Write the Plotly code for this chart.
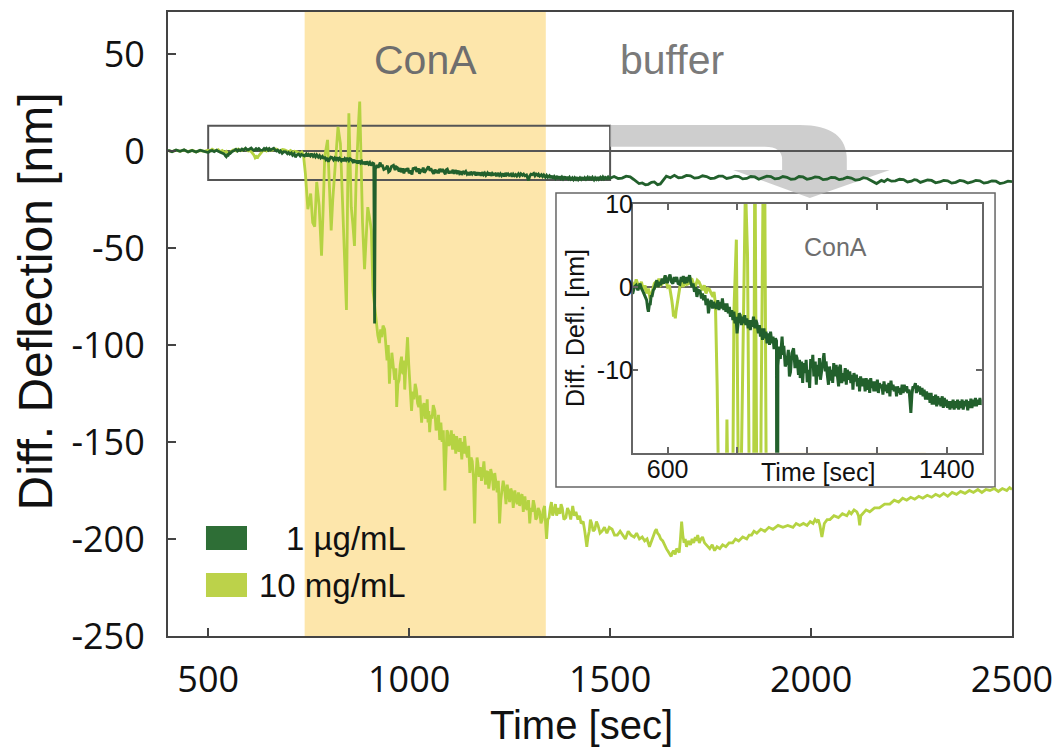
import plotly.graph_objects as go

# Differential cantilever deflection (nm) versus time (s) for two ConA concentrations.
# Each list holds (time, deflection) readings.
LOW_CONC = [  # 1 µg/mL
    (400, 0.3), (410, -0.4), (420, 0.5), (430, -0.2), (440, 0.6), (450, -0.5), (460, 0.2),
    (470, -0.6), (480, 0.4), (490, -0.3), (500, -0.8), (505, 0.0), (510, 0.2), (515, -0.4),
    (521, 0.4), (525, -0.2), (530, -0.6), (535, -1.2), (540, -1.6), (543, -2.6), (545, -3.0),
    (548, -2.0), (550, -2.2), (553, -1.0), (555, -1.2), (559, -0.4), (562, -0.2), (566, 0.4),
    (569, 0.8), (573, 0.0), (576, 0.6), (580, 0.2), (584, 1.0), (588, 0.4), (593, 1.4),
    (597, 0.6), (600, 0.6), (604, 1.2), (607, 1.5), (611, 0.6), (615, 0.4), (619, 1.2),
    (622, 0.6), (626, 1.2), (630, 0.4), (635, 0.3), (639, 1.2), (642, 0.6), (645, 1.3),
    (649, 0.4), (652, 1.2), (655, 0.5), (659, 1.0), (663, 1.4), (666, 0.6), (670, 0.0),
    (673, 0.4), (677, -0.6), (680, 0.0), (684, -1.2), (688, -0.4), (693, -0.5), (697, -1.4),
    (700, -0.8), (703, -1.6), (707, -1.0), (710, -2.2), (714, -1.4), (717, -3.2), (721, -2.0),
    (725, -1.6), (729, -2.6), (732, -1.8), (736, -2.4), (740, -2.6), (744, -1.6), (747, -2.8),
    (750, -1.8), (754, -2.6), (757, -1.4), (761, -2.8), (764, -2.0), (767, -3.0), (770, -2.0),
    (774, -3.2), (777, -2.4), (780, -3.6), (784, -2.8), (787, -4.0), (790, -3.0), (793, -4.4),
    (796, -3.6), (799, -5.6), (802, -4.2), (805, -3.2), (808, -3.4), (812, -4.6), (815, -3.6),
    (818, -4.4), (821, -3.4), (824, -4.6), (827, -3.8), (831, -5.0), (834, -4.0), (837, -5.2),
    (840, -4.0), (843, -4.8), (846, -3.6), (850, -5.0), (853, -4.0), (856, -4.4), (860, -5.6),
    (863, -4.6), (866, -6.0), (869, -5.0), (872, -6.4), (876, -5.0), (879, -6.2), (882, -5.4),
    (885, -6.8), (888, -5.6), (892, -7.0), (895, -5.4), (899, -6.8), (902, -6.0), (905, -7.5),
    (909, -6.2), (912, -6.5), (914, -89.0), (916, -9.5), (920, -7.2), (923, -8.7), (926, -6.4),
    (928, -6.0), (931, -8.2), (933, -7.1), (937, -9.6), (942, -9.0), (946, -7.6), (949, -10.8),
    (952, -10.3), (956, -8.0), (961, -7.4), (965, -9.8), (968, -8.2), (971, -8.6), (975, -10.6),
    (978, -8.8), (980, -11.0), (984, -9.0), (987, -11.6), (990, -9.2), (994, -10.4), (997, -8.8),
    (1000, -11.5), (1004, -10.0), (1007, -12.2), (1010, -8.7), (1014, -9.6), (1016, -8.2),
    (1019, -10.8), (1023, -9.0), (1026, -11.8), (1029, -9.4), (1033, -10.8), (1035, -8.6),
    (1038, -11.2), (1042, -9.8), (1045, -8.4), (1048, -8.0), (1052, -10.2), (1054, -9.0),
    (1057, -10.4), (1061, -11.8), (1064, -9.6), (1067, -11.3), (1071, -10.0), (1073, -11.6),
    (1076, -9.2), (1080, -10.8), (1083, -9.4), (1086, -10.6), (1090, -12.0), (1092, -9.8),
    (1095, -9.4), (1099, -11.6), (1102, -10.4), (1105, -11.4), (1109, -9.8), (1112, -11.8),
    (1115, -10.0), (1119, -11.2), (1122, -10.2), (1125, -11.6), (1129, -10.6), (1131, -12.4),
    (1134, -10.4), (1138, -11.4), (1141, -10.6), (1144, -12.0), (1148, -11.0), (1150, -12.6),
    (1153, -10.8), (1157, -12.0), (1160, -11.2), (1163, -11.2), (1166, -12.6), (1169, -11.0),
    (1172, -12.4), (1176, -11.2), (1179, -12.8), (1182, -11.0), (1185, -12.2), (1188, -11.4),
    (1191, -12.6), (1195, -11.4), (1198, -12.6), (1201, -11.2), (1204, -12.8), (1207, -11.6),
    (1210, -12.2), (1214, -11.8), (1217, -13.0), (1220, -11.4), (1224, -12.6), (1227, -11.8),
    (1230, -12.8), (1234, -11.6), (1237, -13.2), (1240, -11.3), (1243, -12.4), (1246, -11.8),
    (1249, -12.6), (1253, -12.0), (1256, -13.2), (1259, -12.0), (1262, -12.8), (1265, -12.2),
    (1268, -13.0), (1272, -11.8), (1275, -12.8), (1278, -11.8), (1282, -12.6), (1285, -12.0),
    (1288, -12.8), (1292, -12.4), (1295, -13.6), (1297, -15.2), (1300, -13.0), (1303, -12.0),
    (1306, -12.2), (1310, -11.6), (1313, -12.8), (1316, -11.9), (1320, -12.6), (1322, -12.0),
    (1325, -13.0), (1329, -12.2), (1332, -13.2), (1335, -12.4), (1339, -13.6), (1342, -12.6),
    (1345, -13.6), (1349, -12.8), (1352, -14.0), (1355, -12.8), (1358, -14.2), (1361, -13.2),
    (1364, -14.2), (1368, -13.0), (1371, -14.4), (1374, -13.2), (1377, -14.2), (1380, -13.4),
    (1383, -14.4), (1387, -13.2), (1390, -14.6), (1393, -13.4), (1396, -14.4), (1399, -13.6),
    (1402, -14.6), (1406, -13.8), (1409, -14.8), (1412, -13.8), (1415, -14.6), (1418, -13.6),
    (1421, -14.8), (1425, -13.8), (1428, -14.6), (1431, -13.6), (1434, -14.8), (1437, -13.8),
    (1440, -14.6), (1444, -13.6), (1447, -14.8), (1450, -13.8), (1453, -14.4), (1456, -13.6),
    (1460, -14.9), (1463, -13.8), (1466, -14.6), (1469, -13.5), (1472, -14.6), (1476, -13.6),
    (1479, -14.4), (1482, -13.4), (1485, -14.4), (1488, -13.6), (1492, -14.2), (1495, -13.4),
    (1498, -14.2), (1510, -13.2), (1520, -14.2), (1530, -14.0), (1540, -13.0), (1550, -13.4),
    (1558, -14.6), (1565, -15.5), (1572, -16.8), (1580, -16.5), (1588, -17.4), (1595, -17.2),
    (1603, -16.2), (1610, -16.0), (1618, -17.4), (1625, -17.0), (1632, -15.0), (1640, -13.0),
    (1650, -13.8), (1660, -12.6), (1670, -13.8), (1680, -13.6), (1690, -12.6), (1700, -12.8),
    (1710, -14.0), (1720, -13.8), (1730, -12.8), (1740, -13.2), (1750, -14.2), (1760, -14.0),
    (1770, -13.0), (1780, -13.0), (1790, -14.2), (1800, -13.8), (1810, -13.0), (1820, -13.2),
    (1830, -14.4), (1840, -14.2), (1850, -13.2), (1860, -13.4), (1870, -14.6), (1880, -14.0),
    (1890, -13.0), (1900, -13.2), (1910, -14.4), (1920, -14.2), (1930, -13.2), (1940, -13.6),
    (1950, -14.6), (1960, -14.4), (1970, -13.2), (1980, -13.4), (1990, -14.6), (2000, -14.2),
    (2010, -13.4), (2020, -13.6), (2030, -14.8), (2040, -14.6), (2050, -13.6), (2060, -13.8),
    (2070, -14.8), (2080, -14.4), (2090, -13.6), (2100, -14.0), (2110, -15.0), (2120, -14.8),
    (2130, -13.8), (2140, -14.2), (2150, -15.4), (2157, -16.2), (2163, -16.8), (2169, -16.0),
    (2175, -15.2), (2182, -15.8), (2190, -14.6), (2200, -15.6), (2210, -15.4), (2220, -14.6),
    (2230, -14.8), (2240, -16.0), (2250, -15.6), (2257, -14.8), (2263, -15.0), (2272, -16.2),
    (2280, -15.8), (2290, -15.0), (2300, -15.2), (2310, -16.4), (2320, -16.0), (2330, -15.2),
    (2340, -15.4), (2350, -16.6), (2360, -16.2), (2370, -15.2), (2380, -15.6), (2390, -16.6),
    (2400, -16.0), (2410, -15.2), (2420, -15.4), (2430, -16.6), (2440, -16.2), (2450, -15.4),
    (2460, -15.6), (2470, -16.8), (2480, -16.4), (2490, -15.6), (2500, -15.8),
]

HIGH_CONC = [  # 10 mg/mL
    (400, 0.2), (410, -0.3), (420, 0.4), (430, -0.2), (440, 0.5), (450, -0.4), (460, 0.3),
    (470, -0.5), (480, 0.2), (490, -0.2), (500, 0.4), (505, 0.0), (510, 0.9), (515, 0.3),
    (521, 0.2), (525, 0.6), (530, -0.4), (535, 0.2), (540, -0.8), (545, -0.2), (550, -1.5),
    (554, -0.8), (558, -0.3), (562, 0.4), (566, 0.6), (570, 0.0), (575, 1.0), (580, 0.2),
    (585, 0.4), (590, 1.0), (595, 0.8), (600, 0.0), (605, 0.2), (609, -0.6), (612, -1.6),
    (615, -2.6), (617, -3.6), (620, -3.0), (622, -3.8), (624, -3.0), (626, -2.4), (629, -1.4),
    (632, -0.6), (636, 0.2), (640, 0.6), (645, 0.0), (650, 1.0), (655, 0.3), (660, 0.4),
    (665, 1.0), (670, 0.9), (675, 0.2), (680, 0.1), (685, 0.8), (690, 0.6), (695, 0.0),
    (700, -0.4), (705, 0.2), (710, -0.8), (715, -0.2), (720, -0.3), (725, -0.8), (730, -1.2),
    (733, -0.6), (737, -2.0), (742, -12), (748, -30), (755, -22), (760, -37), (765, -39),
    (770, -16), (776, -28), (782, -54), (786, -30), (790, -3), (797, 5.7), (802, -18),
    (806, -41), (810, -25), (814, -13), (818, 2), (823, 12.4), (829, 3.8), (835, -34),
    (840, -55), (844, -82), (847, -20), (850, 19.4), (853, -5), (856, -29), (860, -38),
    (864, -49), (868, -15), (871, 5.7), (874, 14), (877, 25.4), (880, -10), (884, -37),
    (889, -61), (893, -45), (897, -29), (902, -35), (906, -41), (910, -72), (914, -80),
    (918, -89), (922, -95), (926, -99), (929, -92), (932, -96), (935, -90), (939, -92),
    (942, -102), (945, -108), (948, -100), (951, -120), (953, -110), (955, -112), (957, -104),
    (959, -109), (962, -114), (964, -118), (967, -112), (969, -132), (972, -120), (975, -118),
    (978, -110), (981, -106), (983, -114), (985, -115), (987, -108), (989, -123), (991, -114),
    (993, -108), (995, -100), (996, -96), (999, -110), (1001, -118), (1004, -126), (1006, -134),
    (1009, -124), (1012, -128), (1015, -120), (1018, -123), (1021, -130), (1024, -132),
    (1027, -126), (1031, -140), (1034, -132), (1037, -130), (1040, -138), (1043, -134),
    (1045, -128), (1047, -140), (1049, -134), (1051, -145), (1054, -136), (1057, -138),
    (1060, -131), (1064, -134), (1067, -144), (1070, -142), (1073, -136), (1076, -149),
    (1079, -140), (1082, -150), (1085, -144), (1089, -175), (1091, -160), (1092, -152),
    (1094, -144), (1096, -145), (1099, -152), (1102, -150), (1105, -144), (1108, -154),
    (1110, -146), (1113, -148), (1116, -156), (1118, -147), (1121, -152), (1124, -155),
    (1127, -148), (1131, -159), (1133, -152), (1135, -150), (1137, -156), (1138, -147),
    (1141, -154), (1145, -158), (1148, -152), (1151, -166), (1154, -158), (1157, -160),
    (1160, -168), (1163, -192), (1165, -172), (1167, -165), (1169, -158), (1171, -161),
    (1174, -168), (1177, -163), (1180, -170), (1183, -166), (1186, -160), (1190, -172),
    (1192, -166), (1195, -165), (1198, -174), (1200, -171), (1203, -164), (1207, -168),
    (1210, -175), (1213, -166), (1216, -172), (1219, -176), (1222, -170), (1225, -192),
    (1228, -180), (1231, -176), (1234, -170), (1238, -175), (1241, -182), (1244, -172),
    (1247, -178), (1250, -181), (1253, -174), (1256, -176), (1259, -184), (1263, -175),
    (1266, -180), (1269, -182), (1272, -176), (1275, -183), (1278, -178), (1281, -177),
    (1284, -186), (1288, -178), (1291, -184), (1294, -185), (1297, -180), (1300, -192),
    (1303, -184), (1306, -186), (1309, -180), (1312, -183), (1315, -190), (1318, -189),
    (1321, -184), (1325, -186), (1328, -192), (1331, -190), (1334, -185), (1337, -183),
    (1340, -194), (1342, -200), (1345, -190), (1348, -189), (1351, -184), (1354, -181),
    (1357, -188), (1360, -186), (1364, -182), (1367, -188), (1371, -184), (1375, -187),
    (1378, -182), (1381, -184), (1385, -190), (1390, -189), (1394, -184), (1398, -186),
    (1402, -190), (1407, -183), (1411, -188), (1415, -186), (1420, -190), (1424, -188),
    (1428, -192), (1433, -191), (1437, -196), (1442, -204), (1445, -199), (1448, -196),
    (1451, -190), (1454, -192), (1458, -196), (1462, -195), (1466, -191), (1470, -193),
    (1475, -197), (1480, -196), (1486, -194), (1492, -197), (1498, -194), (1505, -195),
    (1511, -198), (1518, -198), (1525, -196), (1532, -198), (1538, -200), (1545, -196),
    (1552, -198), (1560, -199), (1566, -197), (1573, -200), (1580, -199), (1586, -201),
    (1592, -200), (1598, -204), (1603, -201), (1608, -199), (1612, -196), (1615, -195),
    (1618, -197), (1622, -198), (1626, -200), (1631, -201), (1635, -203), (1640, -205),
    (1646, -207), (1652, -209), (1655, -207), (1658, -206), (1662, -208), (1665, -205),
    (1669, -206), (1672, -207), (1675, -200), (1678, -191), (1681, -198), (1684, -202),
    (1687, -200), (1690, -204), (1695, -201), (1700, -203), (1704, -200), (1708, -202),
    (1712, -199), (1715, -201), (1718, -198), (1722, -202), (1726, -200), (1730, -199),
    (1735, -202), (1739, -203), (1744, -204), (1748, -205), (1754, -203), (1760, -206),
    (1766, -204), (1773, -205), (1780, -203), (1788, -204), (1796, -202), (1805, -202),
    (1812, -200), (1820, -201), (1830, -199), (1840, -200), (1846, -198), (1852, -198),
    (1858, -196), (1865, -197), (1875, -195), (1885, -196), (1895, -194), (1905, -195),
    (1918, -193), (1930, -194), (1942, -193), (1955, -194), (1963, -192), (1972, -193),
    (1981, -192), (1990, -193), (1998, -191), (2005, -192), (2010, -190), (2014, -191),
    (2018, -190), (2022, -193), (2027, -199), (2030, -194), (2033, -192), (2040, -190),
    (2047, -190), (2057, -188), (2068, -189), (2078, -187), (2089, -188), (2095, -186),
    (2100, -187), (2107, -185), (2114, -186), (2118, -188), (2121, -193), (2124, -188),
    (2128, -187), (2137, -185), (2146, -186), (2158, -184), (2170, -184), (2183, -182),
    (2196, -182), (2207, -180), (2218, -181), (2228, -179), (2238, -180), (2248, -178.5),
    (2258, -179.5), (2268, -178), (2278, -179), (2289, -177.5), (2300, -178.5), (2310, -177),
    (2320, -178), (2330, -176.5), (2340, -178), (2351, -176), (2362, -177), (2372, -175.5),
    (2383, -176.5), (2394, -175), (2404, -176), (2415, -174.5), (2425, -176), (2435, -174.5),
    (2445, -175), (2456, -174), (2466, -175.5), (2476, -174), (2487, -175), (2494, -173.5),
    (2500, -174.5),
]

series_names = ["1 µg/mL", "10 mg/mL"]
series_colors = ["#22602c", "#b5d342"]
swatch_colors = ["#2e6e36", "#bcd24a"]

x_ticks = [500, 1000, 1500, 2000, 2500]
y_ticks = [-250, -200, -150, -100, -50, 0, 50]
y_tick_labels = ["-250", "-200", "-150", "-100", "-50", "0", "50"]
inset_x_ticks = [600, 800, 1000, 1200, 1400]
inset_x_labels = ["600", "", "", "", "1400"]
inset_y_ticks = [-10, 0, 10]
inset_y_labels = ["-10", "0", "10"]

cona_window = (740, 1340)      # ConA injection period (s)
zoom_window_x = (500, 1500)    # region magnified in the inset
zoom_window_y = (-15, 13)

t_low, d_low = zip(*LOW_CONC)
t_high, d_high = zip(*HIGH_CONC)

ARIAL = "Liberation Sans, Arial, sans-serif"
TICKFONT = "Open Sans, Liberation Sans, sans-serif"
INK = "#111111"
AXIS = "#444444"

fig = go.Figure()

# main panel: high concentration first so the 1 µg/mL trace sits on top
for (t, d), name, color in zip([(t_high, d_high), (t_low, d_low)],
                               series_names[::-1], series_colors[::-1]):
    fig.add_trace(go.Scatter(x=t, y=d, mode="lines", name=name,
                             line=dict(color=color, width=2.8), showlegend=False,
                             xaxis="x", yaxis="y"))

# inset: same recordings, zoomed
for (t, d), name, color in zip([(t_high, d_high), (t_low, d_low)],
                               series_names[::-1], series_colors[::-1]):
    fig.add_trace(go.Scatter(x=t, y=d, mode="lines", name=name,
                             line=dict(color=color, width=3), showlegend=False,
                             xaxis="x2", yaxis="y2"))

shapes = [
    # ConA period in the main panel
    dict(type="rect", xref="x", yref="y domain", x0=cona_window[0], x1=cona_window[1],
         y0=0, y1=1, fillcolor="#fde6ab", line=dict(width=0), layer="below"),
    # zoom window outline
    dict(type="rect", xref="x", yref="y", x0=zoom_window_x[0], x1=zoom_window_x[1],
         y0=zoom_window_y[0], y1=zoom_window_y[1], line=dict(color="#555555", width=2),
         fillcolor="rgba(0,0,0,0)", layer="below"),
    # curved arrow from the zoom window to the inset
    dict(type="path", xref="x", yref="y",
         path=("M 1500,13.4 L 1972,13.4 Q 2089,13.4 2089,-4.6 L 2089,-9.8 L 2196,-9.8 "
               "L 1997,-24.2 L 1806,-9.8 L 1928,-9.8 L 1928,-4.6 Q 1928,2.1 1885,2.1 "
               "L 1500,2.1 Z"),
         fillcolor="rgba(185,185,185,0.7)", line=dict(width=0), layer="below"),
    # white frame behind the inset
    dict(type="rect", xref="paper", yref="paper", x0=0.4597, x1=0.9799, y0=0.2388, y1=0.7099,
         fillcolor="white", line=dict(color="#666666", width=1.5), layer="below"),
    # ConA period in the inset
    dict(type="rect", xref="x2", yref="y2 domain", x0=cona_window[0], x1=cona_window[1],
         y0=0, y1=1, fillcolor="#fde6ab", line=dict(width=0), layer="below"),
]

# legend swatches
for color, (y0, y1) in zip(swatch_colors, [(0.1378, 0.1763), (0.0625, 0.1010)]):
    shapes.append(dict(type="rect", xref="paper", yref="paper", x0=0.045, x1=0.0936,
                       y0=y0, y1=y1, fillcolor=color, line=dict(width=0), layer="above"))

annotations = [
    dict(text="ConA", x=1040, y=47, xref="x", yref="y", showarrow=False,
         font=dict(family=ARIAL, size=41, color="#6e6e6e")),
    dict(text="buffer", x=1655, y=47, xref="x", yref="y", showarrow=False,
         font=dict(family=ARIAL, size=41, color="#7a7a7a")),
    dict(text="Time [sec]", x=0.4905, y=-0.1425, xref="paper", yref="paper", showarrow=False,
         xanchor="center", yanchor="middle", font=dict(family=ARIAL, size=40, color=INK)),
    dict(text="Diff. Deflection [nm]", x=-0.157, y=0.537, xref="paper", yref="paper",
         showarrow=False, textangle=-90, xanchor="center", yanchor="middle",
         font=dict(family=ARIAL, size=48, color=INK)),
    dict(text="ConA", x=1080, y=4.8, xref="x2", yref="y2", showarrow=False,
         font=dict(family=ARIAL, size=25, color="#6e6e6e")),
    dict(text="Time [sec]", x=0.7701, y=0.2628, xref="paper", yref="paper", showarrow=False,
         xanchor="center", yanchor="middle", font=dict(family=ARIAL, size=25, color=INK)),
    dict(text="Diff. Defl. [nm]", x=0.4822, y=0.4936, xref="paper", yref="paper",
         showarrow=False, textangle=-90, xanchor="center", yanchor="middle",
         font=dict(family=ARIAL, size=25, color=INK)),
]
for name, yc in zip(series_names, [0.157, 0.0817]):
    annotations.append(dict(text=name, x=0.2844, y=yc, xref="paper", yref="paper",
                            showarrow=False, xanchor="right", yanchor="middle",
                            font=dict(family=ARIAL, size=33, color=INK)))

fig.update_layout(
    width=1062, height=753,
    margin=dict(l=168, r=50, t=12, b=117, autoexpand=False),
    paper_bgcolor="white", plot_bgcolor="white",
    showlegend=False,
    shapes=shapes, annotations=annotations,
    xaxis=dict(domain=[0, 1], range=[400, 2500], tickvals=x_ticks, automargin=False,
               ticks="inside", ticklen=8, tickwidth=2, tickcolor=AXIS,
               showline=True, linecolor=AXIS, linewidth=2, mirror=True,
               showgrid=False, zeroline=False, ticklabelstandoff=11,
               tickfont=dict(family=TICKFONT, size=36, color=INK)),
    yaxis=dict(domain=[0, 1], range=[-250, 71.6], tickvals=y_ticks, ticktext=y_tick_labels,
               automargin=False,
               ticks="inside", ticklen=8, tickwidth=2, tickcolor=AXIS,
               showline=True, linecolor=AXIS, linewidth=2, mirror=True,
               showgrid=False, zeroline=True, zerolinecolor="#555555", zerolinewidth=1.5,
               ticklabelstandoff=14,
               tickfont=dict(family=TICKFONT, size=36, color=INK)),
    xaxis2=dict(domain=[0.5506, 0.9641], range=[500, 1500], anchor="y2", automargin=False,
                tickvals=inset_x_ticks, ticktext=inset_x_labels,
                ticks="inside", ticklen=6, tickwidth=1.5, tickcolor="#666666",
                showline=True, linecolor="#666666", linewidth=1.5, mirror="ticks",
                showgrid=False, zeroline=False, ticklabelstandoff=-6,
                tickfont=dict(family=ARIAL, size=25, color=INK)),
    yaxis2=dict(domain=[0.2938, 0.6923], range=[-20, 10], anchor="x2", automargin=False,
                tickvals=inset_y_ticks, ticktext=inset_y_labels,
                ticks="inside", ticklen=6, tickwidth=1.5, tickcolor="#666666",
                showline=True, linecolor="#666666", linewidth=1.5, mirror="ticks",
                showgrid=False, zeroline=True, zerolinecolor="#666666", zerolinewidth=1.5,
                ticklabelstandoff=-7,
                tickfont=dict(family=ARIAL, size=25, color=INK)),
)

fig.write_html("out.html")
